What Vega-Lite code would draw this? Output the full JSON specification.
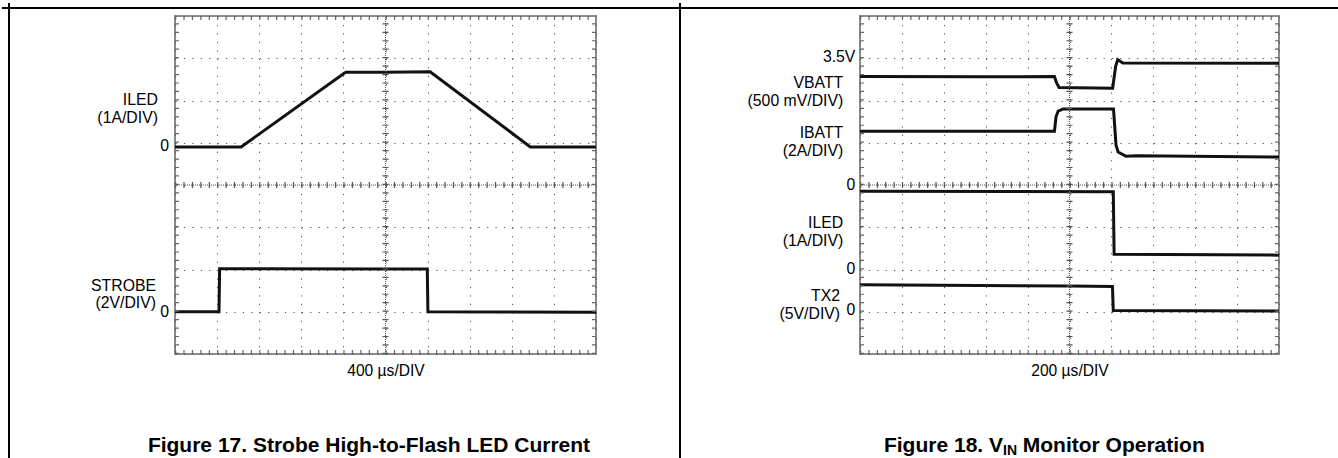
{
  "$schema": "https://vega.github.io/schema/vega-lite/v6.json",
  "padding": 0,
  "background": "white",
  "spacing": 264,
  "bounds": "flush",
  "config": {
    "view": {"stroke": "#8a8a8a", "strokeWidth": 2},
    "font": "Liberation Sans",
    "axis": {"titleFont": "Liberation Sans", "titleFontSize": 15.6, "titleFontWeight": "normal", "titleColor": "#000", "gridColor": "#555", "gridOpacity": 1, "gridWidth": 1},
    "text": {"font": "Liberation Sans", "fontSize": 15.8, "color": "#000"}
  },
  "datasets": {
    "fig17": [
      {"t": 0, "channel": "ILED", "div": 4.9},
      {"t": 628, "channel": "ILED", "div": 4.9},
      {"t": 1604, "channel": "ILED", "div": 6.64},
      {"t": 1625, "channel": "ILED", "div": 6.67},
      {"t": 2000, "channel": "ILED", "div": 6.67},
      {"t": 2424, "channel": "ILED", "div": 6.68},
      {"t": 3376, "channel": "ILED", "div": 4.9},
      {"t": 4000, "channel": "ILED", "div": 4.9},
      {"t": 0, "channel": "STROBE", "div": 1.0},
      {"t": 418, "channel": "STROBE", "div": 1.0},
      {"t": 424, "channel": "STROBE", "div": 2.02},
      {"t": 2000, "channel": "STROBE", "div": 2.01},
      {"t": 2397, "channel": "STROBE", "div": 2.01},
      {"t": 2403, "channel": "STROBE", "div": 1.0},
      {"t": 4000, "channel": "STROBE", "div": 0.99}
    ],
    "fig18": [
      {"t": 0, "channel": "VBATT", "div": 6.57},
      {"t": 600, "channel": "VBATT", "div": 6.56},
      {"t": 928, "channel": "VBATT", "div": 6.57},
      {"t": 938, "channel": "VBATT", "div": 6.42},
      {"t": 950, "channel": "VBATT", "div": 6.31},
      {"t": 1206, "channel": "VBATT", "div": 6.29},
      {"t": 1220, "channel": "VBATT", "div": 6.8},
      {"t": 1230, "channel": "VBATT", "div": 6.97},
      {"t": 1254, "channel": "VBATT", "div": 6.89},
      {"t": 2000, "channel": "VBATT", "div": 6.88},
      {"t": 0, "channel": "IBATT", "div": 5.27},
      {"t": 928, "channel": "IBATT", "div": 5.27},
      {"t": 936, "channel": "IBATT", "div": 5.62},
      {"t": 946, "channel": "IBATT", "div": 5.75},
      {"t": 970, "channel": "IBATT", "div": 5.8},
      {"t": 1210, "channel": "IBATT", "div": 5.8},
      {"t": 1222, "channel": "IBATT", "div": 4.95},
      {"t": 1232, "channel": "IBATT", "div": 4.78},
      {"t": 1270, "channel": "IBATT", "div": 4.68},
      {"t": 1320, "channel": "IBATT", "div": 4.69},
      {"t": 2000, "channel": "IBATT", "div": 4.66},
      {"t": 0, "channel": "ILED", "div": 3.85},
      {"t": 1209, "channel": "ILED", "div": 3.84},
      {"t": 1213, "channel": "ILED", "div": 2.36},
      {"t": 2000, "channel": "ILED", "div": 2.34},
      {"t": 0, "channel": "TX2", "div": 1.64},
      {"t": 1000, "channel": "TX2", "div": 1.61},
      {"t": 1205, "channel": "TX2", "div": 1.6},
      {"t": 1209, "channel": "TX2", "div": 1.03},
      {"t": 2000, "channel": "TX2", "div": 1.02}
    ]
  },
  "hconcat": [
    {
      "width": 421,
      "height": 338,
      "layer": [
        {
          "data": {"name": "fig17"},
          "mark": {"type": "line", "color": "#111", "strokeWidth": 3},
          "encoding": {
            "x": {"field": "t", "type": "quantitative", "scale": {"domain": [0, 4000], "nice": false, "zero": false},
              "axis": {"title": "400 µs/DIV", "values": [0, 400, 800, 1200, 1600, 2000, 2400, 2800, 3200, 3600, 4000], "grid": true, "gridDash": [1.2, 7.25], "labels": false, "ticks": false, "domain": false, "titlePadding": 9}},
            "y": {"field": "div", "type": "quantitative", "scale": {"domain": [0, 8], "nice": false, "zero": false},
              "axis": {"title": null, "values": [0, 1, 2, 3, 4, 5, 6, 7, 8], "grid": true, "gridDash": [1.2, 7.22], "labels": false, "ticks": false, "domain": false}},
            "detail": {"field": "channel", "type": "nominal"}
          }
        },
        {"data": {"values": [{}]}, "mark": {"type": "rule", "color": "#555", "strokeWidth": 1, "strokeDash": [1, 1]},
          "encoding": {"x": {"datum": 2000, "type": "quantitative", "scale": {"domain": [0, 4000], "nice": false, "zero": false}}, "y": {"datum": 0, "type": "quantitative", "scale": {"domain": [0, 8], "nice": false, "zero": false}}, "y2": {"datum": 8}}},
        {"data": {"values": [{}]}, "mark": {"type": "rule", "color": "#555", "strokeWidth": 6, "strokeDash": [1.2, 7.25]},
          "encoding": {"x": {"datum": 2000, "type": "quantitative", "scale": {"domain": [0, 4000], "nice": false, "zero": false}}, "y": {"datum": 0, "type": "quantitative", "scale": {"domain": [0, 8], "nice": false, "zero": false}}, "y2": {"datum": 8}}},
        {"data": {"values": [{}]}, "mark": {"type": "rule", "color": "#555", "strokeWidth": 1, "strokeDash": [1, 1]},
          "encoding": {"y": {"datum": 4, "type": "quantitative", "scale": {"domain": [0, 8], "nice": false, "zero": false}}, "x": {"datum": 0, "type": "quantitative", "scale": {"domain": [0, 4000], "nice": false, "zero": false}}, "x2": {"datum": 4000}}},
        {"data": {"values": [{}]}, "mark": {"type": "rule", "color": "#555", "strokeWidth": 6, "strokeDash": [1.2, 7.22]},
          "encoding": {"y": {"datum": 4, "type": "quantitative", "scale": {"domain": [0, 8], "nice": false, "zero": false}}, "x": {"datum": 0, "type": "quantitative", "scale": {"domain": [0, 4000], "nice": false, "zero": false}}, "x2": {"datum": 4000}}},
        {"data": {"values": [{}]}, "mark": {"type": "rule", "color": "#666", "strokeWidth": 4, "strokeDash": [1.2, 7.25]},
          "encoding": {"x": {"datum": 19, "type": "quantitative", "scale": {"domain": [0, 4000], "nice": false, "zero": false}}, "y": {"datum": 0, "type": "quantitative", "scale": {"domain": [0, 8], "nice": false, "zero": false}}, "y2": {"datum": 8}}},
        {"data": {"values": [{}]}, "mark": {"type": "rule", "color": "#666", "strokeWidth": 4, "strokeDash": [1.2, 7.25]},
          "encoding": {"x": {"datum": 3981, "type": "quantitative", "scale": {"domain": [0, 4000], "nice": false, "zero": false}}, "y": {"datum": 0, "type": "quantitative", "scale": {"domain": [0, 8], "nice": false, "zero": false}}, "y2": {"datum": 8}}},
        {"data": {"values": [{}]}, "mark": {"type": "rule", "color": "#666", "strokeWidth": 4, "strokeDash": [1.2, 7.22]},
          "encoding": {"y": {"datum": 0.047, "type": "quantitative", "scale": {"domain": [0, 8], "nice": false, "zero": false}}, "x": {"datum": 0, "type": "quantitative", "scale": {"domain": [0, 4000], "nice": false, "zero": false}}, "x2": {"datum": 4000}}},
        {"data": {"values": [{}]}, "mark": {"type": "rule", "color": "#666", "strokeWidth": 4, "strokeDash": [1.2, 7.22]},
          "encoding": {"y": {"datum": 7.953, "type": "quantitative", "scale": {"domain": [0, 8], "nice": false, "zero": false}}, "x": {"datum": 0, "type": "quantitative", "scale": {"domain": [0, 4000], "nice": false, "zero": false}}, "x2": {"datum": 4000}}},
        {"data": {"values": [{}]}, "mark": {"type": "text", "text": ["ILED", "(1A/DIV)"], "align": "right", "baseline": "middle", "lineHeight": 17.5},
          "encoding": {"x": {"datum": -162, "type": "quantitative", "scale": {"domain": [0, 4000], "nice": false, "zero": false}}, "y": {"datum": 6.01, "type": "quantitative", "scale": {"domain": [0, 8], "nice": false, "zero": false}}}},
        {"data": {"values": [{}]}, "mark": {"type": "text", "text": "0", "align": "right", "baseline": "middle"},
          "encoding": {"x": {"datum": -57, "type": "quantitative", "scale": {"domain": [0, 4000], "nice": false, "zero": false}}, "y": {"datum": 4.93, "type": "quantitative", "scale": {"domain": [0, 8], "nice": false, "zero": false}}}},
        {"data": {"values": [{}]}, "mark": {"type": "text", "text": ["STROBE", "(2V/DIV)"], "align": "right", "baseline": "middle", "lineHeight": 17.5},
          "encoding": {"x": {"datum": -180, "type": "quantitative", "scale": {"domain": [0, 4000], "nice": false, "zero": false}}, "y": {"datum": 1.61, "type": "quantitative", "scale": {"domain": [0, 8], "nice": false, "zero": false}}}},
        {"data": {"values": [{}]}, "mark": {"type": "text", "text": "0", "align": "right", "baseline": "middle"},
          "encoding": {"x": {"datum": -57, "type": "quantitative", "scale": {"domain": [0, 4000], "nice": false, "zero": false}}, "y": {"datum": 0.99, "type": "quantitative", "scale": {"domain": [0, 8], "nice": false, "zero": false}}}},
        {"data": {"values": [{}]}, "mark": {"type": "rule", "color": "#000", "strokeWidth": 2},
          "encoding": {"x": {"datum": -1577.2, "type": "quantitative", "scale": {"domain": [0, 4000], "nice": false, "zero": false}}, "y": {"datum": 8.3077, "type": "quantitative", "scale": {"domain": [0, 8], "nice": false, "zero": false}}, "y2": {"datum": -2.4852}}},
        {"data": {"values": [{}]}, "mark": {"type": "rule", "color": "#000", "strokeWidth": 2},
          "encoding": {"x": {"datum": 4798, "type": "quantitative", "scale": {"domain": [0, 4000], "nice": false, "zero": false}}, "y": {"datum": 8.3077, "type": "quantitative", "scale": {"domain": [0, 8], "nice": false, "zero": false}}, "y2": {"datum": -2.4852}}},
        {"data": {"values": [{}]}, "mark": {"type": "rule", "color": "#000", "strokeWidth": 2},
          "encoding": {"y": {"datum": 8.1893, "type": "quantitative", "scale": {"domain": [0, 8], "nice": false, "zero": false}}, "x": {"datum": -1643.7, "type": "quantitative", "scale": {"domain": [0, 4000], "nice": false, "zero": false}}, "x2": {"datum": 4798}}},
        {"data": {"values": [{}]}, "mark": {"type": "text", "text": "Figure 17. Strobe High-to-Flash LED Current", "align": "center", "baseline": "alphabetic", "fontSize": 21, "fontWeight": "bold"},
          "encoding": {"x": {"datum": 1843, "type": "quantitative", "scale": {"domain": [0, 4000], "nice": false, "zero": false}}, "y": {"datum": -2.308, "type": "quantitative", "scale": {"domain": [0, 8], "nice": false, "zero": false}}}}
      ]
    },
    {
      "width": 419,
      "height": 338,
      "layer": [
        {
          "data": {"name": "fig18"},
          "mark": {"type": "line", "color": "#111", "strokeWidth": 3},
          "encoding": {
            "x": {"field": "t", "type": "quantitative", "scale": {"domain": [0, 2000], "nice": false, "zero": false},
              "axis": {"title": "200 µs/DIV", "values": [0, 200, 400, 600, 800, 1000, 1200, 1400, 1600, 1800, 2000], "grid": true, "gridDash": [1.2, 7.25], "labels": false, "ticks": false, "domain": false, "titlePadding": 9}},
            "y": {"field": "div", "type": "quantitative", "scale": {"domain": [0, 8], "nice": false, "zero": false},
              "axis": {"title": null, "values": [0, 1, 2, 3, 4, 5, 6, 7, 8], "grid": true, "gridDash": [1.2, 7.18], "labels": false, "ticks": false, "domain": false}},
            "detail": {"field": "channel", "type": "nominal"}
          }
        },
        {"data": {"values": [{}]}, "mark": {"type": "rule", "color": "#555", "strokeWidth": 1, "strokeDash": [1, 1]},
          "encoding": {"x": {"datum": 1000, "type": "quantitative", "scale": {"domain": [0, 2000], "nice": false, "zero": false}}, "y": {"datum": 0, "type": "quantitative", "scale": {"domain": [0, 8], "nice": false, "zero": false}}, "y2": {"datum": 8}}},
        {"data": {"values": [{}]}, "mark": {"type": "rule", "color": "#555", "strokeWidth": 6, "strokeDash": [1.2, 7.25]},
          "encoding": {"x": {"datum": 1000, "type": "quantitative", "scale": {"domain": [0, 2000], "nice": false, "zero": false}}, "y": {"datum": 0, "type": "quantitative", "scale": {"domain": [0, 8], "nice": false, "zero": false}}, "y2": {"datum": 8}}},
        {"data": {"values": [{}]}, "mark": {"type": "rule", "color": "#555", "strokeWidth": 1, "strokeDash": [1, 1]},
          "encoding": {"y": {"datum": 4, "type": "quantitative", "scale": {"domain": [0, 8], "nice": false, "zero": false}}, "x": {"datum": 0, "type": "quantitative", "scale": {"domain": [0, 2000], "nice": false, "zero": false}}, "x2": {"datum": 2000}}},
        {"data": {"values": [{}]}, "mark": {"type": "rule", "color": "#555", "strokeWidth": 6, "strokeDash": [1.2, 7.18]},
          "encoding": {"y": {"datum": 4, "type": "quantitative", "scale": {"domain": [0, 8], "nice": false, "zero": false}}, "x": {"datum": 0, "type": "quantitative", "scale": {"domain": [0, 2000], "nice": false, "zero": false}}, "x2": {"datum": 2000}}},
        {"data": {"values": [{}]}, "mark": {"type": "rule", "color": "#666", "strokeWidth": 4, "strokeDash": [1.2, 7.25]},
          "encoding": {"x": {"datum": 9.5, "type": "quantitative", "scale": {"domain": [0, 2000], "nice": false, "zero": false}}, "y": {"datum": 0, "type": "quantitative", "scale": {"domain": [0, 8], "nice": false, "zero": false}}, "y2": {"datum": 8}}},
        {"data": {"values": [{}]}, "mark": {"type": "rule", "color": "#666", "strokeWidth": 4, "strokeDash": [1.2, 7.25]},
          "encoding": {"x": {"datum": 1990.5, "type": "quantitative", "scale": {"domain": [0, 2000], "nice": false, "zero": false}}, "y": {"datum": 0, "type": "quantitative", "scale": {"domain": [0, 8], "nice": false, "zero": false}}, "y2": {"datum": 8}}},
        {"data": {"values": [{}]}, "mark": {"type": "rule", "color": "#666", "strokeWidth": 4, "strokeDash": [1.2, 7.18]},
          "encoding": {"y": {"datum": 0.047, "type": "quantitative", "scale": {"domain": [0, 8], "nice": false, "zero": false}}, "x": {"datum": 0, "type": "quantitative", "scale": {"domain": [0, 2000], "nice": false, "zero": false}}, "x2": {"datum": 2000}}},
        {"data": {"values": [{}]}, "mark": {"type": "rule", "color": "#666", "strokeWidth": 4, "strokeDash": [1.2, 7.18]},
          "encoding": {"y": {"datum": 7.953, "type": "quantitative", "scale": {"domain": [0, 8], "nice": false, "zero": false}}, "x": {"datum": 0, "type": "quantitative", "scale": {"domain": [0, 2000], "nice": false, "zero": false}}, "x2": {"datum": 2000}}},
        {"data": {"values": [{}]}, "mark": {"type": "text", "text": "3.5V", "align": "right", "baseline": "middle"},
          "encoding": {"x": {"datum": -22, "type": "quantitative", "scale": {"domain": [0, 2000], "nice": false, "zero": false}}, "y": {"datum": 7.02, "type": "quantitative", "scale": {"domain": [0, 8], "nice": false, "zero": false}}}},
        {"data": {"values": [{}]}, "mark": {"type": "text", "text": ["VBATT", "(500 mV/DIV)"], "align": "right", "baseline": "middle", "lineHeight": 17.5},
          "encoding": {"x": {"datum": -80, "type": "quantitative", "scale": {"domain": [0, 2000], "nice": false, "zero": false}}, "y": {"datum": 6.414, "type": "quantitative", "scale": {"domain": [0, 8], "nice": false, "zero": false}}}},
        {"data": {"values": [{}]}, "mark": {"type": "text", "text": ["IBATT", "(2A/DIV)"], "align": "right", "baseline": "middle", "lineHeight": 17.5},
          "encoding": {"x": {"datum": -80, "type": "quantitative", "scale": {"domain": [0, 2000], "nice": false, "zero": false}}, "y": {"datum": 5.219, "type": "quantitative", "scale": {"domain": [0, 8], "nice": false, "zero": false}}}},
        {"data": {"values": [{}]}, "mark": {"type": "text", "text": "0", "align": "right", "baseline": "middle"},
          "encoding": {"x": {"datum": -22, "type": "quantitative", "scale": {"domain": [0, 2000], "nice": false, "zero": false}}, "y": {"datum": 4.0, "type": "quantitative", "scale": {"domain": [0, 8], "nice": false, "zero": false}}}},
        {"data": {"values": [{}]}, "mark": {"type": "text", "text": ["ILED", "(1A/DIV)"], "align": "right", "baseline": "middle", "lineHeight": 17.5},
          "encoding": {"x": {"datum": -80, "type": "quantitative", "scale": {"domain": [0, 2000], "nice": false, "zero": false}}, "y": {"datum": 3.089, "type": "quantitative", "scale": {"domain": [0, 8], "nice": false, "zero": false}}}},
        {"data": {"values": [{}]}, "mark": {"type": "text", "text": "0", "align": "right", "baseline": "middle"},
          "encoding": {"x": {"datum": -22, "type": "quantitative", "scale": {"domain": [0, 2000], "nice": false, "zero": false}}, "y": {"datum": 2.01, "type": "quantitative", "scale": {"domain": [0, 8], "nice": false, "zero": false}}}},
        {"data": {"values": [{}]}, "mark": {"type": "text", "text": ["TX2", "(5V/DIV)"], "align": "right", "baseline": "middle", "lineHeight": 17.5},
          "encoding": {"x": {"datum": -95, "type": "quantitative", "scale": {"domain": [0, 2000], "nice": false, "zero": false}}, "y": {"datum": 1.361, "type": "quantitative", "scale": {"domain": [0, 8], "nice": false, "zero": false}}}},
        {"data": {"values": [{}]}, "mark": {"type": "text", "text": "0", "align": "right", "baseline": "middle"},
          "encoding": {"x": {"datum": -22, "type": "quantitative", "scale": {"domain": [0, 2000], "nice": false, "zero": false}}, "y": {"datum": 1.04, "type": "quantitative", "scale": {"domain": [0, 8], "nice": false, "zero": false}}}},
        {"data": {"values": [{}]}, "mark": {"type": "rule", "color": "#000", "strokeWidth": 2},
          "encoding": {"y": {"datum": 8.1893, "type": "quantitative", "scale": {"domain": [0, 8], "nice": false, "zero": false}}, "x": {"datum": -859.2, "type": "quantitative", "scale": {"domain": [0, 2000], "nice": false, "zero": false}}, "x2": {"datum": 2281.6}}},
        {"data": {"values": [{}]}, "mark": {"type": "text", "text": "Figure 18. V", "align": "right", "baseline": "alphabetic", "fontSize": 21, "fontWeight": "bold"},
          "encoding": {"x": {"datum": 682.6, "type": "quantitative", "scale": {"domain": [0, 2000], "nice": false, "zero": false}}, "y": {"datum": -2.308, "type": "quantitative", "scale": {"domain": [0, 8], "nice": false, "zero": false}}}},
        {"data": {"values": [{}]}, "mark": {"type": "text", "text": "IN", "align": "left", "baseline": "alphabetic", "fontSize": 14, "fontWeight": "bold"},
          "encoding": {"x": {"datum": 682.6, "type": "quantitative", "scale": {"domain": [0, 2000], "nice": false, "zero": false}}, "y": {"datum": -2.402, "type": "quantitative", "scale": {"domain": [0, 8], "nice": false, "zero": false}}}},
        {"data": {"values": [{}]}, "mark": {"type": "text", "text": "Monitor Operation", "align": "left", "baseline": "alphabetic", "fontSize": 21, "fontWeight": "bold"},
          "encoding": {"x": {"datum": 777, "type": "quantitative", "scale": {"domain": [0, 2000], "nice": false, "zero": false}}, "y": {"datum": -2.308, "type": "quantitative", "scale": {"domain": [0, 8], "nice": false, "zero": false}}}}
      ]
    }
  ]
}
